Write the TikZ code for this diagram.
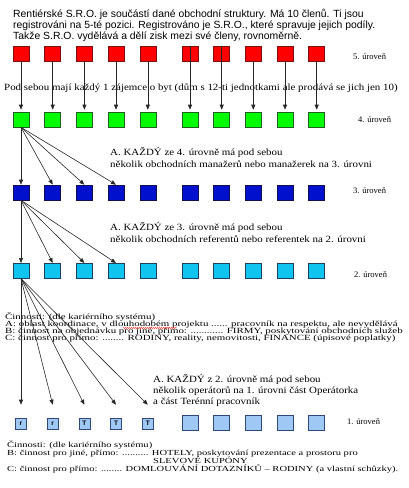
\documentclass[tikz,border=0pt]{standalone}
\usepackage{fontspec}
\usepackage{graphicx}
\setmainfont{Liberation Serif}
\newfontfamily\headfont{Liberation Sans}
\usetikzlibrary{arrows.meta,decorations.pathmorphing}

\definecolor{fillred}{HTML}{FF0000}
\definecolor{edgered}{HTML}{7A1010}
\definecolor{fillgreen}{HTML}{00FF00}
\definecolor{edgegreen}{HTML}{1F5F1F}
\definecolor{fillblue}{HTML}{0010CC}
\definecolor{edgeblue}{HTML}{101050}
\definecolor{fillcyan}{HTML}{10C4F0}
\definecolor{edgecyan}{HTML}{204060}
\definecolor{filllight}{HTML}{A0C8F4}
\definecolor{edgelight}{HTML}{304878}

% wide, low lines of the notes
\newcommand{\noteline}[1]{\scalebox{1.15}[1]{#1}}
\newcommand{\actline}[1]{\scalebox{1.21}[0.88]{#1}}
\newcommand{\lastline}[1]{\scalebox{1.17}[0.86]{#1}}

\tikzset{
  box/.style={draw, minimum width=16pt, minimum height=15pt, inner sep=0pt, line width=0.6pt},
  smallbox/.style={box, minimum width=11pt, minimum height=11pt, font=\headfont\bfseries\fontsize{6.5}{6.5}\selectfont},
  conn/.style={-{Triangle[length=5pt,width=4pt]}, line width=0.6pt, draw=black!85},
  txt/.style={anchor=base west, inner sep=0pt, font=\fontsize{9.5}{9.5}\selectfont},
  small/.style={txt, font=\fontsize{9}{9}\selectfont},
  lvl/.style={txt, font=\fontsize{8.5}{8.5}\selectfont},
  head/.style={txt, font=\headfont\fontsize{10.4}{10.4}\selectfont}
}

\begin{document}
\begin{tikzpicture}[x=1pt, y=-1pt]
  \useasboundingbox (0,0) rectangle (409,488);
  \clip (0,0) rectangle (409,488);

    % heading
  \node[head] (t1) at (13,17) {Rentiérské S.R.O. je součástí dané obchodní struktury. Má 10 členů. Ti jsou};
  \node[head] (t2) at (13,28) {registrováni na 5-té pozici. Registrováno je S.R.O., které spravuje jejich podíly.};
  \node[head] (t3) at (13,39) {Takže S.R.O. vydělává a dělí zisk mezi své členy, rovnoměrně.};

    % the five levels
  \foreach \x [count=\i] in {21,52.7,84.4,116,147.8,190,221.7,253.3,285,316.7} {
    \node[box, fill=fillred, draw=edgered] (r\i) at (\x,53.5) {};
    \node[box, fill=fillgreen, draw=edgegreen] (g\i) at (\x,119.5) {};
    \node[box, fill=fillblue, draw=edgeblue] (b\i) at (\x,192.5) {};
    \node[box, fill=fillcyan, draw=edgecyan] (c\i) at (\x,270.8) {};
  }
  \foreach \x [count=\i] in {21,52.7} {
    \node[smallbox, fill=filllight, draw=edgelight] (l\i) at (\x,423.5) {r};
  }
  \foreach \x [count=\i from 3] in {84.4,116,147.8} {
    \node[smallbox, fill=filllight, draw=edgelight] (l\i) at (\x,423.5) {T};
  }
  \foreach \x [count=\i from 6] in {190,221.7,253.3,285,316.7} {
    \node[box, fill=filllight, draw=edgelight] (l\i) at (\x,422.5) {};
  }

    % level names
  \node[lvl] (n5) at (353,59) {5. úroveň};
  \node[lvl] (n4) at (358,122.5) {4. úroveň};
  \node[lvl] (n3) at (353,193) {3. úroveň};
  \node[lvl] (n2) at (354,277) {2. úroveň};
  \node[lvl] (n1) at (347,424) {1. úroveň};

    % notes
  \node[txt] (p5) at (4,90.5) {\noteline{Pod sebou mají každý 1 zájemce o byt (dům s 12-ti jednotkami ale prodává se jich jen 10)}};
  \node[txt] (p4a) at (110,155.5) {\noteline{A. KAŽDÝ ze 4. úrovně má pod sebou}};
  \node[txt] (p4b) at (110,167.5) {\noteline{několik obchodních manažerů nebo manažerek na 3. úrovni}};
  \node[txt] (p3a) at (110,230.5) {\noteline{A. KAŽDÝ ze 3. úrovně má pod sebou}};
  \node[txt] (p3b) at (110,242.5) {\noteline{několik obchodních referentů nebo referentek na 2. úrovni}};

  \node[small] (q0) at (5,319) {\actline{Činnosti: (dle kariérního systému)}};
  \node[small] (q1) at (5,326.3) {\actline{A: oblast koordinace, v dlouhodobém projektu ...... pracovník na respektu, ale nevydělává}};
  \node[small] (q2) at (5,333.4) {\actline{B: činnost na objednávku pro jiné, přímo: ............ FIRMY, poskytování obchodních služeb}};
  \node[small] (q3) at (5,340.3) {\actline{C: činnost pro přímo: ........ RODINY, reality, nemovitosti, FINANCE (úpisové poplatky)}};
  \draw[red, line width=0.4pt, decorate, decoration={snake, amplitude=0.5pt, segment length=2pt}] (123,328) -- (177,328);

  \node[txt] (p2a) at (153,382.5) {\noteline{A. KAŽDÝ z 2. úrovně má pod sebou}};
  \node[txt] (p2b) at (153,393.5) {\noteline{několik operátorů na 1. úrovni část Operátorka}};
  \node[txt] (p2c) at (153,404.2) {\noteline{a část Terénní pracovník}};

  \node[small] (s0) at (7,447.3) {\lastline{Činnosti: (dle kariérního systému)}};
  \node[small] (s1) at (7,455.6) {\lastline{B: činnost pro jiné, přímo: .......... HOTELY, poskytování prezentace a prostoru pro}};
  \node[small] (s2) at (153,463.4) {\lastline{SLEVOVÉ KUPÓNY}};
  \node[small] (s3) at (7,471.2) {\lastline{C: činnost pro přímo: ........ DOMLOUVÁNÍ DOTAZNÍKŮ – RODINY (a vlastní schůzky).}};

    % connectors
  \foreach \i in {1,...,5,8,9,10}
    \draw[conn, shorten >=2pt] (r\i.south) -- (g\i.north);
  \foreach \i in {6,7}
    \draw[conn, shorten >=2pt] (r\i.north) -- (g\i.north);
  \foreach \i in {1,...,4} {
    \draw[conn] (g1.south) -- (b\i.north);
    \draw[conn] (b1.south) -- (c\i.north);
  }
  \foreach \i in {1,...,5}
    \draw[conn] (c1.south) -- ([yshift=13pt]l\i.north);
\end{tikzpicture}
\end{document}
